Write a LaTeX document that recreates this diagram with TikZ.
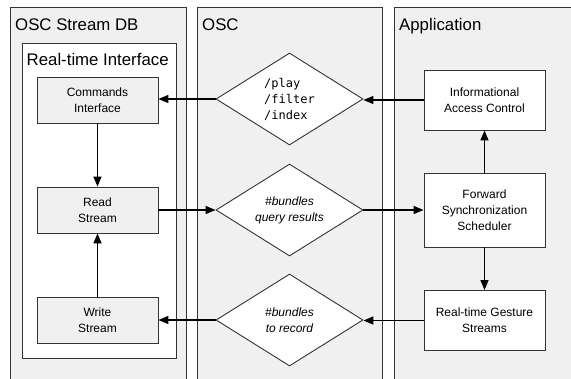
\documentclass[tikz,border=0pt]{standalone}
\usepackage{fontspec}
\setmainfont{Liberation Sans}
\setmonofont{DejaVu Sans Mono}
\usetikzlibrary{arrows.meta,shapes.geometric}
\definecolor{lanefill}{HTML}{F0F0F0}
\definecolor{edge}{HTML}{333333}
\tikzset{
  lane/.style={draw=edge, fill=lanefill, line width=0.9pt},
  title/.style={anchor=base west, inner sep=0pt, font=\fontsize{16.8}{20}\selectfont},
  graybox/.style={draw=edge, fill=lanefill, line width=0.9pt, minimum width=121pt, minimum height=46pt, inner sep=0pt, align=center, font=\fontsize{12}{16}\selectfont},
  whitebox/.style={draw=edge, fill=white, line width=0.9pt, minimum width=121pt, minimum height=60pt, inner sep=0pt, align=center, font=\fontsize{12}{16}\selectfont},
  dia/.style={diamond, draw=edge, fill=white, line width=0.9pt, aspect=1.6, minimum width=147pt, minimum height=92pt, inner sep=0pt, font=\fontsize{12}{16}\selectfont},
  arr/.style={line width=1.4pt, -{Triangle[length=10pt,width=8pt]}}
}
\begin{document}
\begin{tikzpicture}[x=1pt,y=-1pt]
\useasboundingbox (0,0) rectangle (571,378);
% lanes
\path[lane] (10,7) rectangle (186,395);
\path[lane] (197,7) rectangle (382,395);
\path[lane] (394,7) rectangle (590,395);
\node[title] (t1) at (15,30) {OSC Stream DB};
\node[title] (t2) at (202,30) {OSC};
\node[title] (t3) at (399,30) {Application};
% inner box
\path[draw=edge, fill=white, line width=0.9pt] (22,43) rectangle (176,358);
\node[title] (t4) at (26.5,65.5) {Real-time Interface};
% left boxes
\node[graybox] (ci) at (97.5,100) {Commands\\Interface};
\node[graybox] (rs) at (97.5,210) {Read\\Stream};
\node[graybox] (ws) at (97.5,320) {Write\\Stream};
% diamonds
\node[dia, align=left] (d1) at (289.5,99) {\ttfamily /play\\\ttfamily /filter\\\ttfamily /index};
\node[dia, align=center] (d2) at (289.5,210) {\itshape \#bundles\\\itshape query results};
\node[dia, align=center] (d3) at (289.5,320) {\itshape \#bundles\\\itshape to record};
% app boxes
\node[whitebox] (iac) at (484.5,100) {Informational\\Access Control};
\node[whitebox, minimum height=74pt] (fss) at (484.5,210) {Forward\\Synchronization\\Scheduler};
\node[whitebox] (rgs) at (484.5,320.5) {Real-time Gesture\\Streams};
% connectors
\draw[arr] (iac.west) -- (d1.east |- iac.west);
\draw[arr] (d1.west) -- (ci.east |- d1.west);
\draw[arr] (ci.south) -- (rs.north);
\draw[arr] (ws.north) -- (rs.south);
\draw[arr] (rs.east) -- (d2.west);
\draw[arr] (d2.east) -- (fss.west);
\draw[arr] (fss.north) -- (iac.south);
\draw[arr] (fss.south) -- (rgs.north);
\draw[arr] (rgs.west) -- (d3.east |- rgs.west);
\draw[arr] (d3.west) -- (ws.east |- d3.west);
\end{tikzpicture}
\end{document}
